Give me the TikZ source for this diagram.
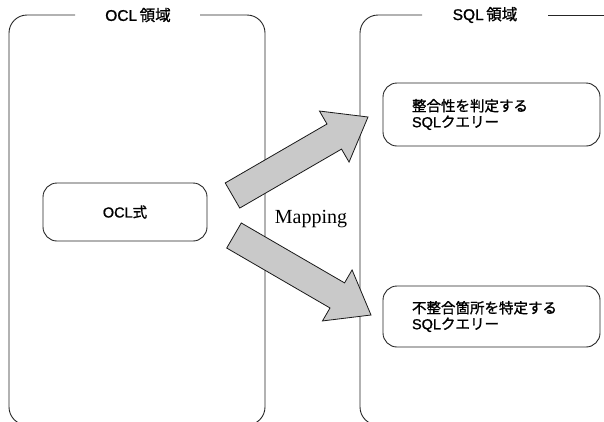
\documentclass[tikz,border=0pt]{standalone}
\usepackage{fontspec}
\setmainfont{Liberation Serif}
\newfontfamily\latsans[FakeBold=1.2]{Liberation Sans}
\newfontfamily\jpsans[FakeBold=1.2]{Noto Sans CJK JP}
\usetikzlibrary{calc}

% Latin part in Arial-like sans, Japanese part in a Gothic face
\newcommand\lt[1]{{\latsans #1}}
\newcommand\jp[1]{{\jpsans #1}}

% broad block arrow from tail centre #1 to tip #2
\newcommand\fatarrow[2]{%
  \coordinate (hb) at ($(#2)!39pt!(#1)$);
  \draw[blockarrow]
    ($(#1)!14.5pt!90:(#2)$) -- ($(hb)!14.5pt!-90:(#1)$) --
    ($(hb)!29.5pt!-90:(#1)$) -- (#2) --
    ($(hb)!29.5pt!90:(#1)$) -- ($(hb)!14.5pt!90:(#1)$) --
    ($(#1)!14.5pt!-90:(#2)$) -- cycle;}

\tikzset{
  panel/.style={draw=black!85, line width=0.9pt, rounded corners=18pt},
  title/.style={font=\fontsize{15.5}{17}\selectfont, inner sep=0pt},
  box/.style={draw=black!85, line width=0.9pt, rounded corners=14pt,
    font=\fontsize{14.5}{16}\selectfont},
  querybox/.style={box, minimum width=217pt, inner xsep=29pt, inner ysep=0pt,
    text width=159pt, align=left},
  blockarrow/.style={draw=black!90, line width=0.8pt, fill=black!21, line join=miter},
}

\begin{document}
\begin{tikzpicture}[x=1pt, y=-1pt]
\useasboundingbox (0,0) rectangle (604,421);
\clip (0,0) rectangle (604,421);

% domain panels (top edge left open for the titles)
\draw[panel] (75,15) -| (9,425) -| (265,15) -- (200,15);
\draw[panel] (422,15) -| (360,425) -- (660,425);
\draw[panel] (548,15) -- (640,15);
\node[title] (ocltitle) at (138,15) {\lt{OCL}\,\jp{領域}};
\node[title] (sqltitle) at (485,15) {\lt{SQL}\,\jp{領域}};

% expression and queries
\node[box, minimum width=164pt, minimum height=58pt] (ocl) at (125,212)
  {\lt{OCL}\jp{式}};
\node[querybox, minimum height=63pt] (q1) at (491.5,114.5)
  {\jp{整合性を判定する}\\\lt{SQL}\jp{クエリー}};
\node[querybox, minimum height=61pt] (q2) at (491.5,316.5)
  {\jp{不整合箇所を特定する}\\\lt{SQL}\jp{クエリー}};

% mapping arrows
\coordinate (a1s) at (232.5,195.5);
\coordinate (a1e) at (368,117);
\coordinate (a2s) at (234,235.5);
\coordinate (a2e) at (371,315);
\fatarrow{a1s}{a1e}
\fatarrow{a2s}{a2e}

\node[font=\fontsize{20}{22}\selectfont] (map) at (311,219) {Mapping};
\end{tikzpicture}
\end{document}
